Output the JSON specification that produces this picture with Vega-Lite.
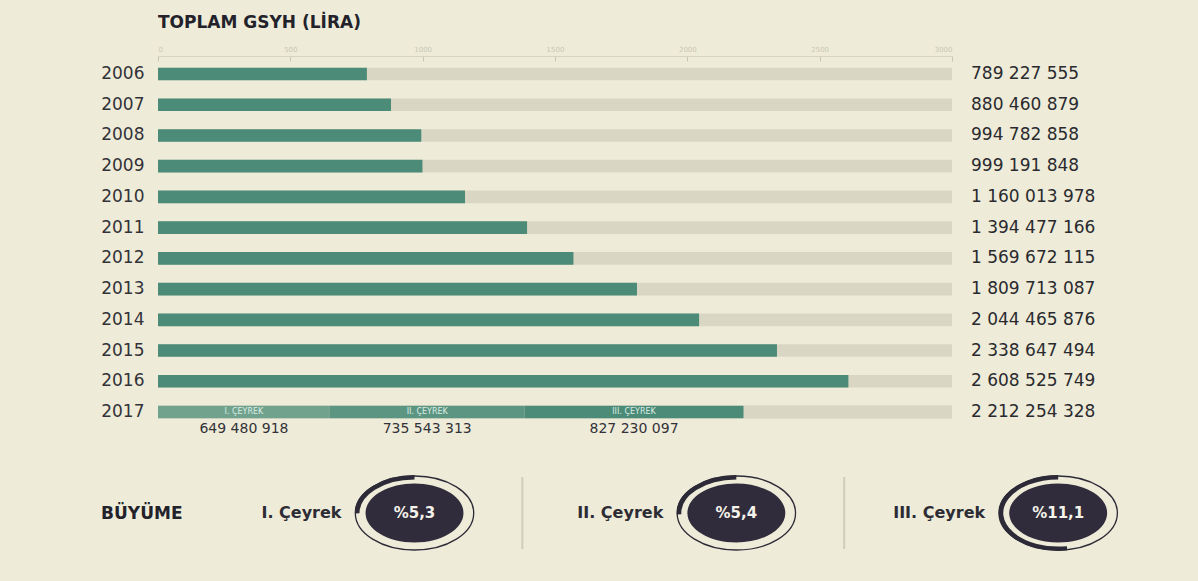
{
  "$schema": "https://vega.github.io/schema/vega-lite/v6.json",
  "background": "#eeecd9",
  "padding": {"left": 100, "top": 14, "right": 32, "bottom": 24},
  "spacing": 31,
  "config": {
    "view": {"stroke": null},
    "font": "DejaVu Sans",
    "locale": {"number": {"decimal": ",", "thousands": " ", "grouping": [3], "currency": ["", ""]}}
  },
  "vconcat": [
    {
      "width": 794,
      "height": 374,
      "title": {"text": "TOPLAM GSYH (LİRA)", "anchor": "start", "frame": "group", "fontSize": 17, "fontWeight": "bold", "color": "#23222b", "offset": 13},
      "data": {"values": [
        {"year": "2006", "part": "Yıllık", "value": 789227555},
        {"year": "2007", "part": "Yıllık", "value": 880460879},
        {"year": "2008", "part": "Yıllık", "value": 994782858},
        {"year": "2009", "part": "Yıllık", "value": 999191848},
        {"year": "2010", "part": "Yıllık", "value": 1160013978},
        {"year": "2011", "part": "Yıllık", "value": 1394477166},
        {"year": "2012", "part": "Yıllık", "value": 1569672115},
        {"year": "2013", "part": "Yıllık", "value": 1809713087},
        {"year": "2014", "part": "Yıllık", "value": 2044465876},
        {"year": "2015", "part": "Yıllık", "value": 2338647494},
        {"year": "2016", "part": "Yıllık", "value": 2608525749},
        {"year": "2017", "part": "I. ÇEYREK", "value": 649480918},
        {"year": "2017", "part": "II. ÇEYREK", "value": 735543313},
        {"year": "2017", "part": "III. ÇEYREK", "value": 827230097}
      ]},
      "encoding": {
        "y": {"field": "year", "type": "ordinal", "title": null,
          "scale": {"paddingInner": 0.59, "paddingOuter": 0.38},
          "axis": {"domain": false, "ticks": false, "labelFontSize": 17, "labelColor": "#333238", "labelPadding": 14}}
      },
      "layer": [
        {
          "mark": {"type": "bar", "color": "#d9d7c4"},
          "encoding": {
            "x": {"datum": 3000000000, "type": "quantitative", "title": null,
              "scale": {"domain": [0, 3000000000], "nice": false},
              "axis": {"orient": "top", "values": [0, 500000000, 1000000000, 1500000000, 2000000000, 2500000000, 3000000000],
                "labelExpr": "format(datum.value / 1000000, 'd')", "grid": false, "labelFontSize": 7, "labelColor": "#c8c6b3",
                "domainColor": "#d6d4c2", "tickColor": "#c8c6b3", "tickSize": -5, "labelPadding": 9, "title": null}}
          }
        },
        {
          "mark": {"type": "bar"},
          "encoding": {
            "x": {"field": "value", "type": "quantitative", "stack": "zero", "title": null},
            "color": {"field": "part", "type": "nominal", "legend": null,
              "scale": {"domain": ["Yıllık", "I. ÇEYREK", "II. ÇEYREK", "III. ÇEYREK"], "range": ["#4b8b77", "#70a28e", "#5c9683", "#4b8b77"]}},
            "order": {"field": "part", "sort": "ascending"}
          }
        },
        {
          "transform": [{"aggregate": [{"op": "sum", "field": "value", "as": "total"}], "groupby": ["year"]}],
          "mark": {"type": "text", "align": "left", "baseline": "middle", "dx": 19, "fontSize": 17, "color": "#2a2a2e"},
          "encoding": {
            "x": {"datum": 3000000000, "type": "quantitative", "title": null},
            "text": {"field": "total", "type": "quantitative", "format": ",d"}
          }
        },
        {
          "transform": [
            {"filter": "datum.year === '2017'"},
            {"stack": "value", "groupby": ["year"], "sort": [{"field": "part"}], "as": ["v0", "v1"]},
            {"calculate": "(datum.v0 + datum.v1) / 2", "as": "mid"}
          ],
          "mark": {"type": "text", "align": "center", "baseline": "middle", "fontSize": 8, "color": "#dcebe4"},
          "encoding": {
            "x": {"field": "mid", "type": "quantitative", "title": null},
            "text": {"field": "part", "type": "nominal"}
          }
        },
        {
          "transform": [
            {"filter": "datum.year === '2017'"},
            {"stack": "value", "groupby": ["year"], "sort": [{"field": "part"}], "as": ["v0", "v1"]},
            {"calculate": "(datum.v0 + datum.v1) / 2", "as": "mid"}
          ],
          "mark": {"type": "text", "align": "center", "baseline": "middle", "dy": 17, "fontSize": 14, "color": "#333238"},
          "encoding": {
            "x": {"field": "mid", "type": "quantitative", "title": null},
            "text": {"field": "value", "type": "quantitative", "format": ",d"}
          }
        }
      ]
    },
    {
      "width": 1008,
      "height": 72,
      "data": {"values": [
        {"quarter": "I. Çeyrek", "growth": 5.3},
        {"quarter": "II. Çeyrek", "growth": 5.4},
        {"quarter": "III. Çeyrek", "growth": 11.1}
      ]},
      "layer": [
        {
          "transform": [{"filter": "datum.quarter !== 'I. Çeyrek'"}],
          "mark": {"type": "rule", "color": "#d0cdbb", "strokeWidth": 2},
          "encoding": {
            "x": {"field": "quarter", "type": "nominal", "bandPosition": 0,
              "scale": {"domain": ["I. Çeyrek", "II. Çeyrek", "III. Çeyrek"], "paddingInner": 0, "paddingOuter": 0.066, "align": 1}, "axis": null}
          }
        },
        {
          "mark": {"type": "text", "align": "right", "baseline": "middle", "fontSize": 16, "fontWeight": "bold", "color": "#2d2b33"},
          "encoding": {
            "x": {"field": "quarter", "type": "nominal", "bandPosition": 0.438, "axis": null},
            "y": {"datum": "BÜYÜME", "type": "nominal", "title": null,
              "axis": {"domain": false, "ticks": false, "labelFontSize": 17, "labelFontWeight": "bold", "labelColor": "#23222b", "labelPadding": -24}},
            "text": {"field": "quarter", "type": "nominal"}
          }
        },
        {
          "mark": {"type": "point", "shape": "M-1.6,0A1.6,1 0 1,0 1.6,0A1.6,1 0 1,0 -1.6,0Z", "size": 5476, "filled": false, "stroke": "#2d2a37", "strokeWidth": 1.3, "opacity": 1},
          "encoding": {
            "x": {"field": "quarter", "type": "nominal", "bandPosition": 0.665, "axis": null},
            "y": {"datum": "BÜYÜME", "type": "nominal"}
          }
        },
        {
          "mark": {"type": "point", "size": 5127, "filled": false, "stroke": "#2d2a37", "strokeWidth": 4.5, "strokeCap": "butt", "opacity": 1},
          "encoding": {
            "x": {"field": "quarter", "type": "nominal", "bandPosition": 0.665, "axis": null},
            "y": {"datum": "BÜYÜME", "type": "nominal"},
            "shape": {"field": "quarter", "type": "nominal", "legend": null,
              "scale": {"domain": ["I. Çeyrek", "II. Çeyrek", "III. Çeyrek"],
                "range": ["M0,-1A1.6,1 0 0,0 -1.6,0.01", "M0,-1A1.6,1 0 0,0 -1.599,0.035", "M0,-1A1.6,1 0 1,0 0.25,0.988"]}}
          }
        },
        {
          "mark": {"type": "point", "shape": "M-1.66,0A1.66,1 0 1,0 1.66,0A1.66,1 0 1,0 -1.66,0Z", "size": 3481, "filled": true, "color": "#302c3b", "opacity": 1},
          "encoding": {
            "x": {"field": "quarter", "type": "nominal", "bandPosition": 0.665, "axis": null},
            "y": {"datum": "BÜYÜME", "type": "nominal"}
          }
        },
        {
          "transform": [{"calculate": "'%' + replace(format(datum.growth, '.1f'), '.', ',')", "as": "label"}],
          "mark": {"type": "text", "align": "center", "baseline": "middle", "fontSize": 15, "fontWeight": "bold", "color": "#f4f2ea"},
          "encoding": {
            "x": {"field": "quarter", "type": "nominal", "bandPosition": 0.665, "axis": null},
            "y": {"datum": "BÜYÜME", "type": "nominal"},
            "text": {"field": "label", "type": "nominal"}
          }
        }
      ]
    }
  ]
}
